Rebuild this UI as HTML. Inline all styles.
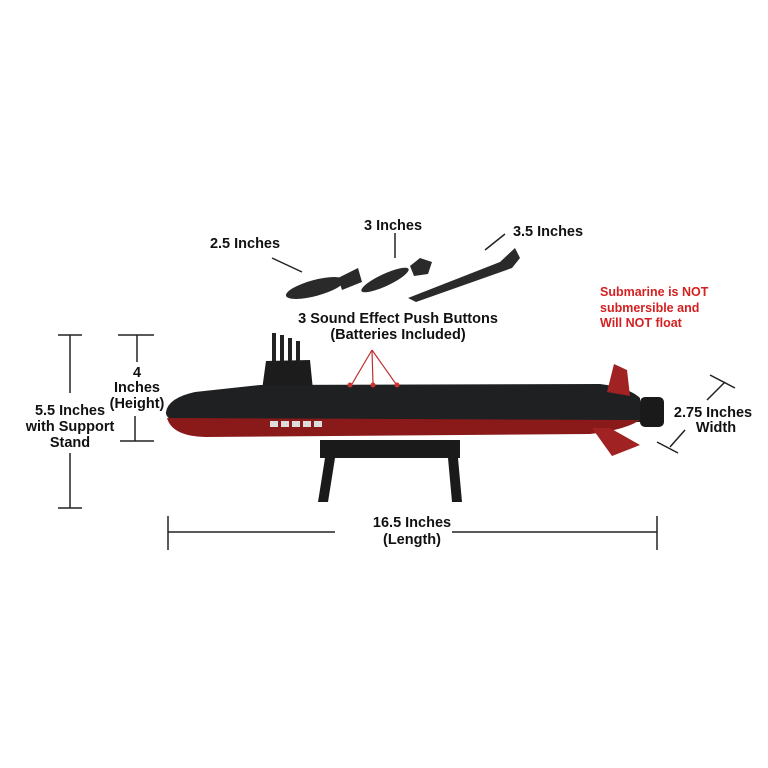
<!DOCTYPE html>
<html><head><style>body{margin:0;background:#fff}svg{display:block}</style></head><body>
<svg width="768" height="768" viewBox="0 0 768 768" font-family="Liberation Sans, sans-serif" font-size="14.5" font-weight="bold">
<g stroke="#222" stroke-width="1.5" fill="none">
<line x1="70" y1="335" x2="70" y2="393"/><line x1="70" y1="453" x2="70" y2="508"/><line x1="58" y1="335" x2="82" y2="335"/><line x1="58" y1="508" x2="82" y2="508"/>
<line x1="137" y1="335" x2="137" y2="362"/><line x1="135" y1="416" x2="135" y2="441"/><line x1="118" y1="335" x2="154" y2="335"/><line x1="120" y1="441" x2="154" y2="441"/>
<line x1="168" y1="532" x2="335" y2="532"/><line x1="452" y1="532" x2="657" y2="532"/><line x1="168" y1="516" x2="168" y2="550"/><line x1="657" y1="516" x2="657" y2="550"/>
<line x1="725" y1="382" x2="707" y2="400"/><line x1="685" y1="430" x2="670" y2="447"/><line x1="710" y1="375" x2="735" y2="388"/><line x1="657" y1="442" x2="678" y2="453"/>
<line x1="272" y1="258" x2="302" y2="272"/><line x1="395" y1="233" x2="395" y2="258"/><line x1="485" y1="250" x2="505" y2="234"/>
</g>
<g stroke="#c03030" stroke-width="1.2"><line x1="372" y1="350" x2="352" y2="384"/><line x1="372" y1="350" x2="373" y2="384"/><line x1="372" y1="350" x2="396" y2="384"/></g>
<!-- missiles -->
<g fill="#2a2a2a">
<ellipse cx="315" cy="288" rx="30" ry="8" transform="rotate(-15 315 288)"/>
<polygon points="338,278 358,268 362,282 342,290"/>
<ellipse cx="385" cy="280" rx="26" ry="6" transform="rotate(-25 385 280)"/>
<polygon points="410,266 420,258 432,262 428,274 414,276"/>
<polygon points="408,298 500,262 515,248 520,258 512,268 416,302"/>
</g>
<!-- sub -->
<g>
<rect x="272" y="333" width="4" height="32" fill="#222"/><rect x="280" y="335" width="4" height="30" fill="#222"/><rect x="288" y="338" width="4" height="27" fill="#222"/><rect x="296" y="341" width="4" height="24" fill="#222"/>
<polygon points="262,390 266,361 310,360 313,390" fill="#1c1c1c"/>
<path d="M182,422 Q165,420 166,412 Q168,398 195,392 L260,385 L600,384 Q630,388 640,398 L640,422 Z" fill="#1e2022"/>
<path d="M167,418 Q172,436 205,437 L590,434 Q625,430 640,420 L167,418 Z" fill="#8a1a1a"/>
<polygon points="607,392 614,364 627,370 630,396" fill="#a02222"/>
<polygon points="592,428 610,428 640,445 612,456" fill="#a02222"/>
<rect x="640" y="397" width="24" height="30" rx="5" fill="#1a1a1a"/>
<g fill="#ddd"><rect x="270" y="421" width="8" height="6"/><rect x="281" y="421" width="8" height="6"/><rect x="292" y="421" width="8" height="6"/><rect x="303" y="421" width="8" height="6"/><rect x="314" y="421" width="8" height="6"/></g>
<g fill="#c33"><circle cx="350" cy="385" r="2.5"/><circle cx="373" cy="385" r="2.5"/><circle cx="397" cy="385" r="2.5"/></g>
<rect x="320" y="440" width="140" height="18" fill="#1a1a1a"/>
<polygon points="325,458 335,458 328,502 318,502" fill="#1a1a1a"/><polygon points="448,458 458,458 462,502 452,502" fill="#1a1a1a"/>
</g>
<g fill="#111" text-anchor="middle">
<text x="245" y="248">2.5 Inches</text><text x="393" y="230">3 Inches</text><text x="548" y="236">3.5 Inches</text>
<text x="398" y="323">3 Sound Effect Push Buttons</text><text x="398" y="339">(Batteries Included)</text>
<text x="137" y="377">4</text><text x="137" y="392">Inches</text><text x="137" y="408">(Height)</text>
<text x="70" y="415">5.5 Inches</text><text x="70" y="431">with Support</text><text x="70" y="447">Stand</text>
<text x="412" y="527">16.5 Inches</text><text x="412" y="544">(Length)</text>
<text x="713" y="417">2.75 Inches</text><text x="716" y="432">Width</text>
</g>
<g fill="#d42020" font-size="12.5"><text x="600" y="296">Submarine is NOT</text><text x="600" y="312">submersible and</text><text x="600" y="327">Will NOT float</text></g>
</svg>
</body></html>
